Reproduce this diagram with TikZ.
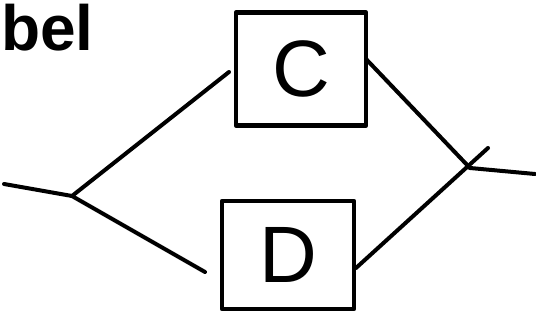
\documentclass[tikz,border=0pt]{standalone}
\usepackage{fontspec}
\setmainfont{Liberation Sans}
\begin{document}
\begin{tikzpicture}[x=1pt,y=1pt,line cap=round,line join=round,
  boxnode/.style={draw,line width=4.5pt,inner sep=0pt,font=\fontsize{80}{80}\selectfont},
  conn/.style={line width=4pt}]
\useasboundingbox (0,0) rectangle (536,321);
\node[font=\bfseries\fontsize{64}{64}\selectfont,anchor=base west,inner sep=0pt] (lbl) at (1,270) {bel};
\node[boxnode,minimum width=130pt,minimum height=113pt] (C) at (301,252) {C};
\node[boxnode,minimum width=132pt,minimum height=108pt] (D) at (288,66) {D};
\coordinate (J1) at (72,125);
\coordinate (J2) at (470,153);
\coordinate (Lend) at (4,137);
\coordinate (Rend) at (535,147);
\coordinate (Dext) at (488,173);
\coordinate (cin) at (229,249);
\coordinate (din) at (205,49);
\coordinate (cout) at (366,262);
\coordinate (dout) at (356,53);
\draw[conn] (Lend) -- (J1);
\draw[conn] (J1) -- (cin);
\draw[conn] (J1) -- (din);
\draw[conn] (cout) -- (J2);
\draw[conn] (dout) -- (Dext);
\draw[conn] (J2) -- (Rend);
\end{tikzpicture}
\end{document}
